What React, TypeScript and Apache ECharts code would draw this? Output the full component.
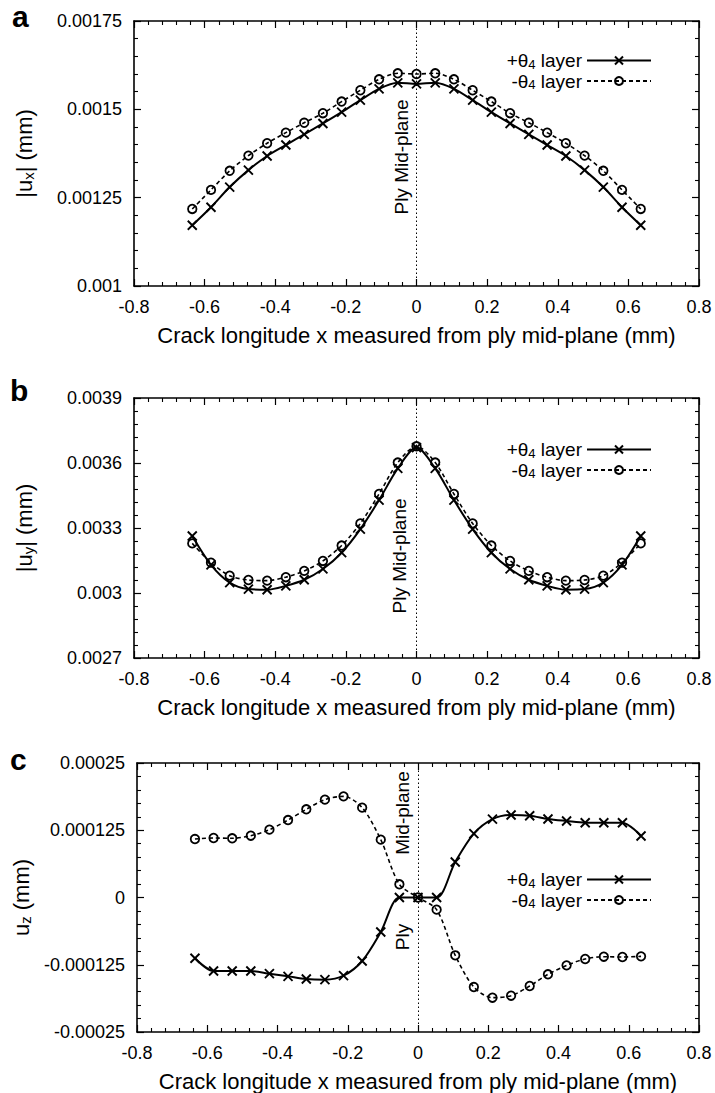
import { useEffect, useRef } from "react";
import * as echarts from "echarts";

// ---------- data ----------
const xPositions = [
  -0.635, -0.582, -0.529, -0.476, -0.423, -0.37, -0.318, -0.265, -0.212, -0.159, -0.106, -0.053, 0,
  0.053, 0.106, 0.159, 0.212, 0.265, 0.318, 0.37, 0.423, 0.476, 0.529, 0.582, 0.635,
];

const uxPlus = [
  0.001172, 0.001223, 0.00128, 0.001328, 0.001368, 0.001399, 0.001429, 0.00146, 0.001492, 0.001526,
  0.001558, 0.001575, 0.001572, 0.001575, 0.001558, 0.001526, 0.001492, 0.00146, 0.001429, 0.001399,
  0.001368, 0.001328, 0.00128, 0.001223, 0.001172,
];
const uxMinus = [
  0.001218, 0.001272, 0.001326, 0.001369, 0.001404, 0.001434, 0.001462, 0.001489, 0.001522, 0.001554,
  0.001585, 0.001602, 0.0016, 0.001602, 0.001585, 0.001554, 0.001522, 0.001489, 0.001462, 0.001434,
  0.001404, 0.001369, 0.001326, 0.001272, 0.001218,
];

const uyPlus = [
  0.003263, 0.00313, 0.003048, 0.003018, 0.003015, 0.003033, 0.003061, 0.003111, 0.003186, 0.003295,
  0.003429, 0.003575, 0.003671, 0.003575, 0.003429, 0.003295, 0.003186, 0.003111, 0.003061, 0.003033,
  0.003015, 0.003018, 0.003048, 0.00313, 0.003263,
];
const uyMinus = [
  0.003229, 0.00314, 0.00308, 0.00306, 0.003057, 0.003073, 0.003102, 0.003148, 0.003219, 0.003321,
  0.003457, 0.003602, 0.003677, 0.003602, 0.003457, 0.003321, 0.003219, 0.003148, 0.003102, 0.003073,
  0.003057, 0.00306, 0.00308, 0.00314, 0.003229,
];

const uzPlus = [
  -0.000113, -0.0001366, -0.0001366, -0.0001366, -0.0001416, -0.0001465, -0.0001515, -0.0001527,
  -0.0001453, -0.000118, -0.0000641, 0, 0, 0, 0.000066, 0.0001187, 0.0001457, 0.0001533, 0.000152,
  0.0001459, 0.0001422, 0.000139, 0.000139, 0.000139, 0.0001143,
];
const uzMinus = [
  0.0001087, 0.0001106, 0.00011, 0.0001149, 0.0001261, 0.000144, 0.0001639, 0.0001819, 0.000188,
  0.000167, 0.0001075, 0.0000245, 0, -0.0000226, -0.0001075, -0.0001664, -0.0001862, -0.0001825,
  -0.0001645, -0.0001428, -0.0001261, -0.0001143, -0.00011, -0.0001106, -0.0001094,
];

const seriesNames = ["+θ4 layer", "-θ4 layer"];
const xAxisTitle = "Crack longitude x measured from ply mid-plane (mm)";
const xRange = { min: -0.8, max: 0.8, interval: 0.2 };
const yRanges = [
  { min: 0.001, max: 0.00175, interval: 0.00025 },
  { min: 0.0027, max: 0.0039, interval: 0.0003 },
  { min: -0.00025, max: 0.00025, interval: 0.000125 },
];
const yNames = ["{n||u}{s|x}{n|| (mm)}", "{n||u}{s|y}{n|| (mm)}", "{n|u}{s|z}{n| (mm)}"];
const panelLetters = ["a", "b", "c"];

// ---------- styling / layout ----------
const FONT = "'Liberation Sans', Arial, Helvetica, sans-serif";
const grids = [
  { left: 134, top: 21, width: 565, height: 265 },
  { left: 134, top: 398, width: 565, height: 260 },
  { left: 137, top: 763, width: 562, height: 269 },
];
const legendTops = [51, 440, 870];
const yNameGaps = [98, 98, 100];

const pairs = (ys: number[]) => xPositions.map((x, i) => [x, ys[i]]);

const axisLineStyle = { show: true, onZero: false, lineStyle: { color: "#000", width: 1.6 } };
const tickStyle = { show: true, inside: true, length: 7, lineStyle: { color: "#000", width: 1.2 } };
const minorStyle = { show: true, splitNumber: 5, length: 4, lineStyle: { color: "#000", width: 1.1 } };

const nameRich = {
  n: { fontFamily: FONT, fontSize: 22, color: "#000", lineHeight: 24 },
  s: { fontFamily: FONT, fontSize: 15, color: "#000", lineHeight: 10, verticalAlign: "bottom" },
};
const legendRich = {
  n: { fontFamily: FONT, fontSize: 19, color: "#000", lineHeight: 20 },
  s: { fontFamily: FONT, fontSize: 13, color: "#000", lineHeight: 8, verticalAlign: "bottom" },
};

export default function App() {
  const ref = useRef<HTMLDivElement>(null);

  useEffect(() => {
    document.body.style.margin = "0";
    if (!ref.current) return;
    const chart = echarts.init(ref.current, null, { renderer: "svg" });

    const xAxis: any[] = [];
    const yAxis: any[] = [];
    const series: any[] = [];
    const legend: any[] = [];
    const datasets = [
      [uxPlus, uxMinus],
      [uyPlus, uyMinus],
      [uzPlus, uzMinus],
    ];

    grids.forEach((_, gi) => {
      const common = {
        type: "value",
        gridIndex: gi,
        ...xRange,
        axisLine: axisLineStyle,
        axisTick: tickStyle,
        minorTick: minorStyle,
        splitLine: { show: false },
        minorSplitLine: { show: false },
      };
      xAxis.push({
        ...common,
        position: "bottom",
        axisLabel: { show: true, fontFamily: FONT, fontSize: 18, color: "#000", margin: 12 },
        name: xAxisTitle,
        nameLocation: "middle",
        nameGap: 38,
        nameTextStyle: { fontFamily: FONT, fontSize: 22, color: "#000" },
      });
      xAxis.push({ ...common, position: "top", axisLabel: { show: false } });

      const yc = {
        type: "value",
        gridIndex: gi,
        ...yRanges[gi],
        axisLine: axisLineStyle,
        axisTick: tickStyle,
        minorTick: minorStyle,
        splitLine: { show: false },
        minorSplitLine: { show: false },
      };
      yAxis.push({
        ...yc,
        position: "left",
        axisLabel: { show: true, fontFamily: FONT, fontSize: 18, color: "#000", margin: 12 },
        name: yNames[gi],
        nameLocation: "middle",
        nameGap: yNameGaps[gi],
        nameRotate: 90,
        nameTextStyle: { rich: nameRich },
      });
      yAxis.push({ ...yc, position: "right", axisLabel: { show: false } });

      const [plus, minus] = datasets[gi];
      series.push({
        name: seriesNames[0],
        type: "line",
        xAxisIndex: gi * 2,
        yAxisIndex: gi * 2,
        data: pairs(plus),
        smooth: 0.3,
        symbol: "path://M0,0L10,10M10,0L0,10",
        symbolSize: 9,
        lineStyle: { color: "#000", width: 2, type: "solid" },
        itemStyle: { color: "#000", borderColor: "#000", borderWidth: 1.9 },
        z: 3,
        markLine: {
          silent: true,
          symbol: ["none", "none"],
          label: { show: false },
          lineStyle: { color: "#000", width: 1, type: [1.5, 2.5] },
          data: [{ xAxis: 0 }],
        },
      });
      series.push({
        name: seriesNames[1],
        type: "line",
        xAxisIndex: gi * 2,
        yAxisIndex: gi * 2,
        data: pairs(minus),
        smooth: 0.3,
        symbol: "circle",
        symbolSize: 8.5,
        lineStyle: { color: "#000", width: 1.6, type: [4, 3] },
        itemStyle: { color: "rgba(0,0,0,0)", borderColor: "#000", borderWidth: 1.8 },
        z: 2,
      });

      legend.push({
        data: seriesNames,
        right: 63,
        top: legendTops[gi],
        orient: "vertical",
        align: "right",
        padding: 0,
        itemGap: 1,
        itemWidth: 64,
        itemHeight: 10,
        selectedMode: false,
        formatter: (name: string) =>
          name.startsWith("+") ? "{n|+θ}{s|4}{n| layer}" : "{n|-θ}{s|4}{n| layer}",
        textStyle: { rich: legendRich },
      });
    });

    const letterStyle = { fontFamily: FONT, fontSize: 30, fontWeight: "bold", fill: "#000", verticalAlign: "middle" };
    const noteStyle = { fontFamily: FONT, fontSize: 19, fill: "#000", align: "center", verticalAlign: "middle" };
    const graphic: any[] = [
      { type: "text", x: 12, y: 16.5, style: { ...letterStyle, text: panelLetters[0] } },
      { type: "text", x: 10, y: 390.5, style: { ...letterStyle, text: panelLetters[1] } },
      { type: "text", x: 10, y: 759.5, style: { ...letterStyle, text: panelLetters[2] } },
      { type: "text", x: 401, y: 157, rotation: Math.PI / 2, style: { ...noteStyle, text: "Ply Mid-plane" } },
      { type: "text", x: 399, y: 556, rotation: Math.PI / 2, style: { ...noteStyle, text: "Ply Mid-plane" } },
      { type: "text", x: 402, y: 813, rotation: Math.PI / 2, style: { ...noteStyle, text: "Mid-plane" } },
      { type: "text", x: 402, y: 937, rotation: Math.PI / 2, style: { ...noteStyle, text: "Ply" } },
    ];

    chart.setOption({
      animation: false,
      backgroundColor: "#fff",
      textStyle: { fontFamily: FONT },
      grid: grids,
      xAxis,
      yAxis,
      series,
      legend,
      graphic,
    });

    return () => chart.dispose();
  }, []);

  return <div ref={ref} style={{ width: 715, height: 1093 }} />;
}
